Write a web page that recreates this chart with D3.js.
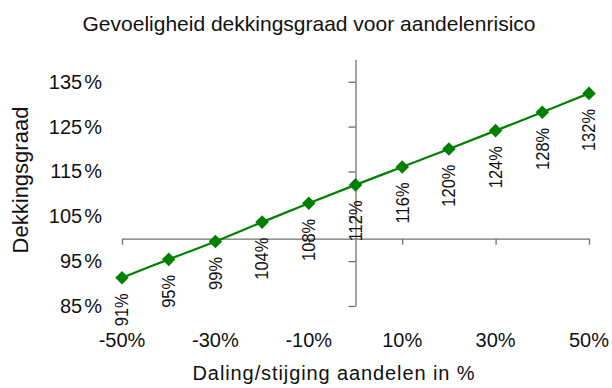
<!DOCTYPE html>
<html>
<head>
<meta charset="utf-8">
<script src="https://cdn.jsdelivr.net/npm/d3@7"></script>
<style>
  html, body { margin: 0; padding: 0; background: #fff; }
  svg { display: block; font-family: "Liberation Sans", Arial, sans-serif; }
</style>
</head>
<body>
<svg id="chart" width="612" height="388"></svg>
<script>
// ---- data ----
const shocks = [-50, -40, -30, -20, -10, 0, 10, 20, 30, 40, 50];          // % change in equities
const coverage = [91.3, 95.4, 99.4, 103.7, 107.9, 112.0, 116.0, 120.0, 124.1, 128.2, 132.4]; // dekkingsgraad %
const xTicks = [-50, -30, -10, 10, 30, 50];
const yTicks = [85, 95, 105, 115, 125, 135];
const title = "Gevoeligheid dekkingsgraad voor aandelenrisico";
const xTitle = "Daling/stijging aandelen in %";
const yTitle = "Dekkingsgraad";

// ---- layout ----
const svg = d3.select("#chart");
const x = d3.scaleLinear().domain([-50, 50]).range([122, 589]);
const y = d3.scaleLinear().domain([85, 140]).range([306, 59.3]);
const axisColor = "#707070";
const green = "#008000";
const pct = v => d3.format(".0f")(v) + "%";

// title
svg.append("text")
  .attr("x", 309).attr("y", 31)
  .attr("text-anchor", "middle")
  .attr("font-size", 21)
  .attr("fill", "#111")
  .text(title);

// y axis (crosses at x = 0)
const yAxis = svg.append("g")
  .attr("transform", `translate(${x(0)},0)`)
  .call(d3.axisLeft(y).tickValues(yTicks).tickSize(7).tickSizeOuter(0).tickFormat(""));
yAxis.selectAll("path, line").attr("stroke", axisColor).attr("stroke-width", 1.3);

// x axis (crosses at y = 100%)
const xAxis = svg.append("g")
  .attr("transform", `translate(0,${y(100)})`)
  .call(d3.axisBottom(x).tickValues(xTicks).tickSize(6).tickSizeOuter(0).tickFormat(""));
xAxis.selectAll("path, line").attr("stroke", axisColor).attr("stroke-width", 1.3);

// y tick labels (low position)
const yl = svg.append("g").selectAll("text").data(yTicks).join("text")
  .attr("x", 102)
  .attr("y", d => y(d))
  .attr("dy", "0.35em")
  .attr("text-anchor", "end")
  .attr("font-size", 20)
  .attr("fill", "#111");
yl.append("tspan").text(d => d3.format(".0f")(d));
yl.append("tspan").attr("dx", 2).text("%");

// x tick labels (low position)
svg.append("g").selectAll("text").data(xTicks).join("text")
  .attr("x", d => x(d))
  .attr("y", 346.5)
  .attr("text-anchor", "middle")
  .attr("font-size", 20)
  .attr("fill", "#111")
  .text(d => d + "%");

// axis titles
svg.append("text")
  .attr("transform", "translate(28,180) rotate(-90)")
  .attr("text-anchor", "middle")
  .attr("font-size", 22)
  .attr("fill", "#111")
  .text(yTitle);

svg.append("text")
  .attr("x", 334).attr("y", 380)
  .attr("text-anchor", "middle")
  .attr("font-size", 20)
  .attr("letter-spacing", 0.9)
  .attr("fill", "#111")
  .text(xTitle);

// series line
const pts = shocks.map((s, i) => [s, coverage[i]]);
svg.append("path")
  .datum(pts)
  .attr("fill", "none")
  .attr("stroke", green)
  .attr("stroke-width", 2.2)
  .attr("d", d3.line().x(d => x(d[0])).y(d => y(d[1])).curve(d3.curveCatmullRom));

// markers
svg.append("g").selectAll("path").data(pts).join("path")
  .attr("transform", d => `translate(${x(d[0])},${y(d[1])}) rotate(45)`)
  .attr("d", d3.symbol(d3.symbolSquare, 92))
  .attr("fill", green);

// data labels (rotated, below points)
svg.append("g").selectAll("text").data(pts).join("text")
  .attr("transform", d => `translate(${x(d[0])},${y(d[1]) + 15.5}) rotate(-90) scale(1,1.12)`)
  .attr("text-anchor", "end")
  .attr("dominant-baseline", "central")
  .attr("font-size", 16.5)
  .attr("fill", "#111")
  .text(d => pct(d[1]));
</script>
</body>
</html>
